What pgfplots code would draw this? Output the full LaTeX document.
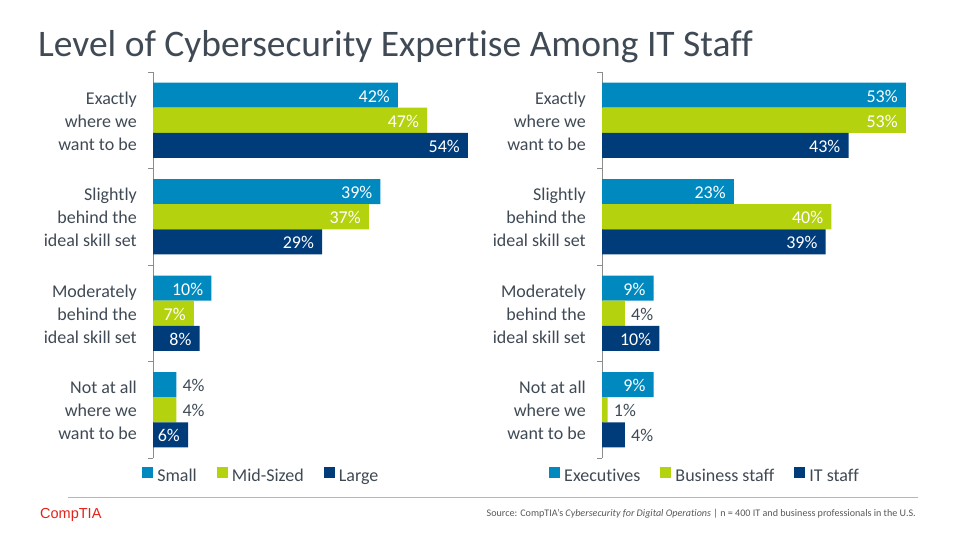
\documentclass[border=0pt]{standalone}
\usepackage{pgfplots}
\pgfplotsset{compat=1.18}
\usepackage{pgfplotstable}
\usepackage{fontspec}
\setmainfont{Carlito}[Ligatures={NoCommon}]
\newfontfamily\logofont{Liberation Sans}
\definecolor{cA}{HTML}{0089BF}
\definecolor{cB}{HTML}{B5D20F}
\definecolor{cC}{HTML}{003B7A}
\definecolor{txt}{HTML}{404A55}
\definecolor{axgray}{HTML}{8C8C8C}
\definecolor{rulec}{HTML}{A9B9CB}
\definecolor{logored}{HTML}{E2231A}
\definecolor{srcgray}{HTML}{595959}

% left panel (in = 1: label inside the bar, 0: outside)
\pgfplotstableread{
y x in
3 42 1
2 39 1
1 10 1
0 4 0
}\LSmall
\pgfplotstableread{
y x in
3 47 1
2 37 1
1 7 1
0 4 0
}\LMid
\pgfplotstableread{
y x in
3 54 1
2 29 1
1 8 1
0 6 1
}\LLarge
% right panel
\pgfplotstableread{
y x in
3 53 1
2 23 1
1 9 1
0 9 1
}\RExec
\pgfplotstableread{
y x in
3 53 1
2 40 1
1 4 0
0 1 0
}\RBus
\pgfplotstableread{
y x in
3 43 1
2 39 1
1 10 1
0 4 0
}\RIT

\pgfplotsset{
 panel/.style={
  scale only axis, height=386bp,
  xmin=0, xmax=60, ymin=-0.5, ymax=3.5,
  axis x line=none, axis y line*=left,
  y axis line style={draw=axgray, line width=0.8pt, -},
  ytick={-0.5,0.5,1.5,2.5,3.5}, yticklabels={},
  tick align=outside, major tick length=5bp,
  y tick style={draw=axgray, line width=0.8pt},
  extra y ticks={0,1,2,3},
  extra y tick labels={{Not at all\\where we\\want to be},{Moderately\\behind the\\ideal skill set},{Slightly\\behind the\\ideal skill set},{Exactly\\where we\\want to be}},
  extra y tick style={major tick length=0pt, tick style={draw=none},
    yticklabel style={align=right, font=\fontsize{18bp}{23bp}\selectfont, text=txt, inner sep=0pt, xshift=-16bp, yshift=-1bp}},
  xbar=0pt, bar width=0.26,
  clip=false,
  /pgf/number format/assume math mode=true,
  legend columns=3,
  legend style={draw=none, fill=none, anchor=west, inner sep=0pt,
    font=\fontsize{18bp}{20bp}\selectfont, text=txt,
    nodes={inner sep=0pt},
    /tikz/every even column/.append style={column sep=20bp}},
  legend image code/.code={\fill[##1,draw=none] (0bp,-1.5bp) rectangle (11bp,9.5bp); \path (15bp,0bp);},
 },
 ser/.style={
  fill=#1, draw=none,
  point meta=x,
  nodes near coords={\pgfmathprintnumber[assume math mode=true]{\pgfplotspointmeta}\%},
  visualization depends on={\thisrow{in} \as \labin},
  every node near coord/.append style={
    /utils/exec={\ifdim\labin pt>0.5pt \def\myanc{east}\def\mycol{white}\def\mysh{-8bp}\else\def\myanc{west}\def\mycol{txt}\def\mysh{6bp}\fi},
    anchor=\myanc, text=\mycol, xshift=\mysh, yshift=-1bp, inner sep=0pt,
    font=\fontsize{18bp}{20bp}\selectfont},
 },
}

\begin{document}
\begin{tikzpicture}
\path[use as bounding box, fill=white] (0,0) rectangle (960bp,540bp);

\node[anchor=base west, text=txt, font=\fontsize{37.5bp}{40bp}\selectfont, inner sep=0pt] at (38bp,483bp) {Level of Cybersecurity Expertise Among IT Staff};

\begin{axis}[panel, width=350bp, at={(153bp,82bp)}, anchor=south west,
  legend style={at={(axis description cs:-0.031,-0.044)}}]
\addplot[ser=cA, bar shift=0.26] table[x=x,y=y] {\LSmall};
\addplot[ser=cB, bar shift=0] table[x=x,y=y] {\LMid};
\addplot[ser=cC, bar shift=-0.26] table[x=x,y=y] {\LLarge};
\legend{Small,Mid-Sized,Large}
\end{axis}

\begin{axis}[panel, width=344bp, at={(602bp,82bp)}, anchor=south west,
  legend style={at={(axis description cs:-0.154,-0.044)}}]
\addplot[ser=cA, bar shift=0.26] table[x=x,y=y] {\RExec};
\addplot[ser=cB, bar shift=0] table[x=x,y=y] {\RBus};
\addplot[ser=cC, bar shift=-0.26] table[x=x,y=y] {\RIT};
\legend{Executives,Business staff,IT staff}
\end{axis}

\draw[rulec, line width=1bp] (68bp,42bp) -- (918bp,42bp);
\node[anchor=west, text=logored, font=\logofont\fontsize{14.5bp}{16bp}\selectfont, inner sep=0pt] at (40bp,25bp) {CompTIA};
\node[anchor=base east, text=srcgray, font=\fontsize{10.1bp}{11bp}\selectfont, inner sep=0pt] at (916bp,24bp) {Source: CompTIA’s \textit{Cybersecurity for Digital Operations} | n = 400 IT and business professionals in the U.S.};
\end{tikzpicture}
\end{document}
